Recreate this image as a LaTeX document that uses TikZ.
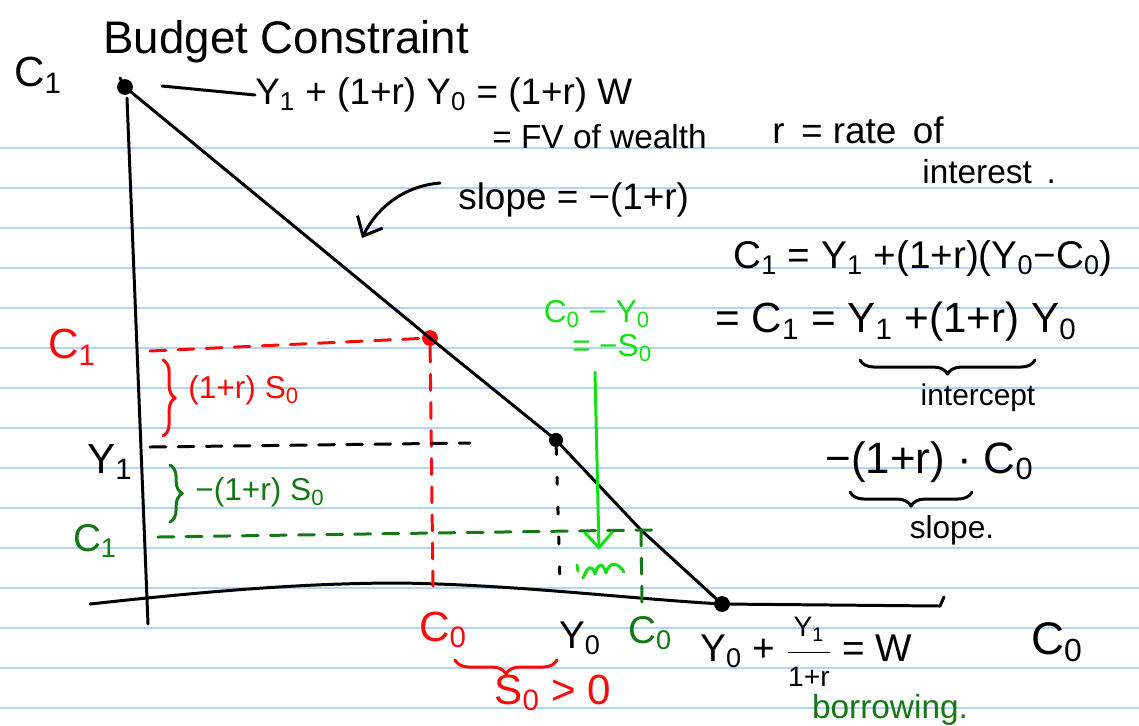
\documentclass[tikz,border=0pt]{standalone}
\usepackage{fontspec}
\setmainfont{Liberation Sans}
\usetikzlibrary{decorations.pathreplacing,arrows.meta}
\newcommand\lo[1]{\textsubscript{#1}}
\definecolor{rulecol}{RGB}{178,212,245}
\definecolor{penred}{RGB}{250,10,10}
\definecolor{pendg}{RGB}{20,120,20}
\definecolor{penlg}{RGB}{20,225,20}
\tikzset{
  ink/.style={line width=1.7pt, line cap=round, line join=round},
  rulestyle/.style={rulecol, line width=0.9pt},
  lbl/.style={inner sep=0pt, font=\fontsize{#1}{#1}\selectfont},
  lbl/.default=20,
  inkdot/.style={circle, fill, inner sep=0pt, minimum size=9pt},
  dashedink/.style={ink, dash pattern=on 9pt off 7pt},
  brc/.style={ink, decorate, decoration={brace, amplitude=#1}},
  brc/.default=7pt,
  barb/.style={-{Straight Barb[length=9pt,width=16pt,line width=1.7pt]}},
}
\begin{document}
\begin{tikzpicture}[x=0.02cm,y=-0.02cm]
\useasboundingbox (0,0) rectangle (1139,725);
\fill[white] (0,0) rectangle (1139,725);
\foreach \yy in {148,188,...,708} \draw[rulestyle] (0,\yy) -- (1139,\yy);

% key points
\node[inkdot] (topdot) at (125,87) {};
\node[inkdot, penred] (reddot) at (430,338) {};
\node[inkdot, minimum size=8pt] (blackdot) at (556,440) {};
\coordinate (gpt) at (641,530);
\node[inkdot] (wdot) at (722,604) {};

% axes
\coordinate (vtop) at (127,98);
\coordinate (vbot) at (148,624);
\draw[ink] (vtop) -- (vbot);
\coordinate (hleft) at (90,604);
\coordinate (hmid) at (400,583);
\coordinate (hright) at (940,606);
\coordinate (hhook) at (944,597);
\draw[ink] (hleft) .. controls (200,592) and (300,583) .. (hmid)
  .. controls (520,585) and (620,598) .. (wdot.center) -- (hright) -- (hhook);

% budget line
\draw[ink] (120,78) -- (topdot.center) -- (reddot.center) -- (blackdot.center) -- (gpt) -- (wdot.center);

% titles and notes
\node[lbl=26, anchor=west] (title) at (103,42) {Budget Constraint};
\node[lbl=24] (cone) at (38,75) {C\lo{1}};
\node[lbl=21, anchor=west] (bc) at (255,95) {Y\lo{1} + (1+r) Y\lo{0} = (1+r) W};
\coordinate (bcstart) at (162,86);
\draw[ink] (bcstart) -- (bc.west);
\node[lbl=19, anchor=west] (fv) at (492,137) {= FV of wealth};
\node[lbl=21, anchor=west] (rr) at (772,130) {r \,= rate\, of};
\node[lbl=19, anchor=west] (intr) at (922,172) {interest\, .};
\node[lbl=21, anchor=west] (sl) at (458,200) {slope = −(1+r)};
\coordinate (slstart) at (440,183);
\coordinate (slend) at (362,238);
\draw[ink, barb] (slstart) .. controls (405,186) and (378,206) .. (slend);

% formulas right
\node[lbl=22, anchor=west] (f1) at (733,258) {C\lo{1} = Y\lo{1} +(1+r)(Y\lo{0}−C\lo{0})};
\node[lbl=24, anchor=west] (f2) at (715,322) {= C\lo{1} = Y\lo{1} +(1+r) Y\lo{0}};
\draw[brc=8pt] (1035,360) -- (860,360);
\node[lbl=17] (icpt) at (978,398) {intercept};
\node[lbl=25, anchor=west] (f3) at (825,462) {−(1+r) · C\lo{0}};
\draw[brc=8pt] (972,492) -- (850,492);
\node[lbl=18] (slp) at (952,530) {slope.};

% red construction
\node[lbl=24, penred] (cr) at (72,347) {C\lo{1}};
\coordinate (rl) at (150,351);
\draw[dashedink, penred] (rl) -- (reddot);
\coordinate (rb) at (433,586);
\draw[dashedink, penred] (reddot) -- (rb);
\draw[brc=7pt, penred] (163,360) -- (163,436);
\node[lbl=18, penred, anchor=west] (rs) at (188,390) {(1+r) S\lo{0}};

% black Y1
\node[lbl=24] (y1) at (110,462) {Y\lo{1}};
\coordinate (bl) at (150,447);
\coordinate (br) at (470,443);
\draw[dashedink] (bl) -- (br);
\coordinate (bd) at (560,582);
\draw[ink, dash pattern=on 4pt off 13pt] (blackdot) -- (bd);

% dark green construction
\draw[brc=7pt, pendg] (170,465) -- (170,522);
\node[lbl=18, pendg, anchor=west] (gs) at (195,492) {−(1+r) S\lo{0}};
\node[lbl=22, pendg] (cg) at (95,541) {C\lo{1}};
\coordinate (gl) at (158,537);
\draw[dashedink, pendg] (gl) -- (gpt) -- (654,530);
\coordinate (gb) at (642,604);
\draw[dashedink, pendg] (gpt) -- (gb);

% bright green
\node[lbl=18, penlg] (cy) at (597,314) {C\lo{0} − Y\lo{0}};
\node[lbl=18, penlg] (ms) at (612,348) {= −S\lo{0}};
\coordinate (ga) at (595,372);
\coordinate (gz) at (599,550);
\draw[ink, penlg, barb] (ga) -- (gz);
\draw[ink, penlg] (583,578) .. controls (588,566) and (592,564) .. (595,574)
  .. controls (598,563) and (603,562) .. (606,573)
  .. controls (609,563) and (616,560) .. (624,572);
\draw[ink, penlg] (577,565) -- (578,571);

% bottom labels
\node[lbl=24, penred] (c0r) at (443,630) {C\lo{0}};
\draw[brc=8pt, penred] (557,660) -- (455,660);
\node[lbl=24, penred] (s0) at (553,693) {S\lo{0} > 0};
\node[lbl=22] (y0) at (580,638) {Y\lo{0}};
\node[lbl=22, pendg] (c0g) at (650,633) {C\lo{0}};
\node[lbl=22, anchor=west] (wf) at (700,652) {Y\lo{0} + $\displaystyle\frac{\mbox{\fontsize{16}{16}\selectfont Y\lo{1}}}{\mbox{\fontsize{16}{16}\selectfont 1+r}}$ = W};
\node[lbl=26] (c0ax) at (1057,642) {C\lo{0}};
\node[lbl=19, pendg] (borr) at (890,710) {borrowing.};
\end{tikzpicture}
\end{document}
